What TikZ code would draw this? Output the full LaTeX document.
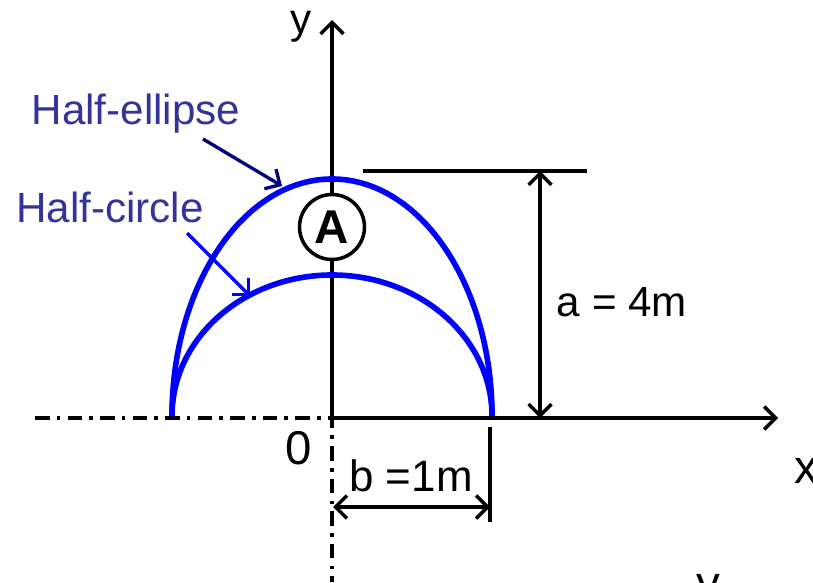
\documentclass[tikz,border=0pt]{standalone}
\usepackage{fontspec}
\setmainfont{Liberation Sans}
\usetikzlibrary{arrows.meta, positioning}
\definecolor{LabelBlue}{HTML}{333399}
\definecolor{ArrowNavy}{HTML}{000080}
\definecolor{CurveBlue}{HTML}{0000FF}
\tikzset{
  axisline/.style={line width=2pt},
  centerline/.style={line width=2pt, dash pattern=on 8.5pt off 4pt on 2pt off 4pt},
  halfcurve/.style={CurveBlue, line width=3.2pt},
  pointer/.style={->, line width=1.9pt},
  dimline/.style={<->, line width=2pt}
}
\begin{document}
\begin{tikzpicture}[x=0.02cm, y=0.02cm, >={Straight Barb[length=6.5pt,width=13pt]}, inner sep=0pt]
  \useasboundingbox (0,0) rectangle (813,582);
  % Coordinates
  \coordinate (O) at (332,164);
  \coordinate (xend) at (778,164);
  \coordinate (yend) at (332,562);
  \coordinate (leftend) at (35,164);
  \coordinate (downend) at (332,0);
  \coordinate (topleft) at (363,411);
  \coordinate (topright) at (587,411);
  \coordinate (atop) at (540,411);
  \coordinate (abot) at (540,164);
  \coordinate (bleft) at (333,75);
  \coordinate (bright) at (490,75);
  \coordinate (tickhi) at (490,155);
  \coordinate (ticklo) at (490,60);
  \coordinate (ellipsetail) at (203,443);
  \coordinate (ellipsetip) at (282,396);
  \coordinate (circletail) at (187,349);
  \coordinate (circletip) at (250,286);

  % Axes
  \draw[centerline] (leftend) -- (O) -- (downend);
  \draw[axisline, ->] (O) -- (xend);
  \draw[axisline, ->] (O) -- (yend);

  % Curves
  \draw[halfcurve] (172,166) arc[start angle=180, end angle=0, x radius=160, y radius=237];
  \draw[halfcurve] (172,166) arc[start angle=180, end angle=0, x radius=160, y radius=141];

  % Nodes
  \node[draw, circle, line width=2pt, fill=white, minimum size=1.3cm, font=\bfseries\fontsize{27}{32}\selectfont] (A) at (332,355) {A};
  \node[LabelBlue, anchor=base, font=\fontsize{24}{28}\selectfont] (ellipselabel) at (136,457) {Half-ellipse};
  \node[LabelBlue, anchor=base, font=\fontsize{24}{28}\selectfont] (circlelabel) at (110,360) {Half-circle};
  \node[font=\fontsize{24}{28}\selectfont] (alabel) at (622,280) {a = 4m};
  \node[font=\fontsize{25}{30}\selectfont] (blabel) at (411,106) {b =1m};
  \node[font=\fontsize{27}{32}\selectfont] (zero) at (299,134) {0};
  \node[font=\fontsize{27}{32}\selectfont] (xlabel) at (806,111) {x};
  \node[font=\fontsize{24}{28}\selectfont] (ylabel) at (301,555) {y};
  \node[font=\fontsize{27}{32}\selectfont] (ylow) at (708,-10) {y};

  % Paths
  \draw[axisline] (topleft) -- (topright);
  \draw[dimline] (atop) -- (abot);
  \draw[axisline] (tickhi) -- (ticklo);
  \draw[dimline] (bleft) -- (bright);
  \draw[pointer, ArrowNavy] (ellipsetail) -- (ellipsetip);
  \draw[pointer, CurveBlue] (circletail) -- (circletip);
\end{tikzpicture}
\end{document}
